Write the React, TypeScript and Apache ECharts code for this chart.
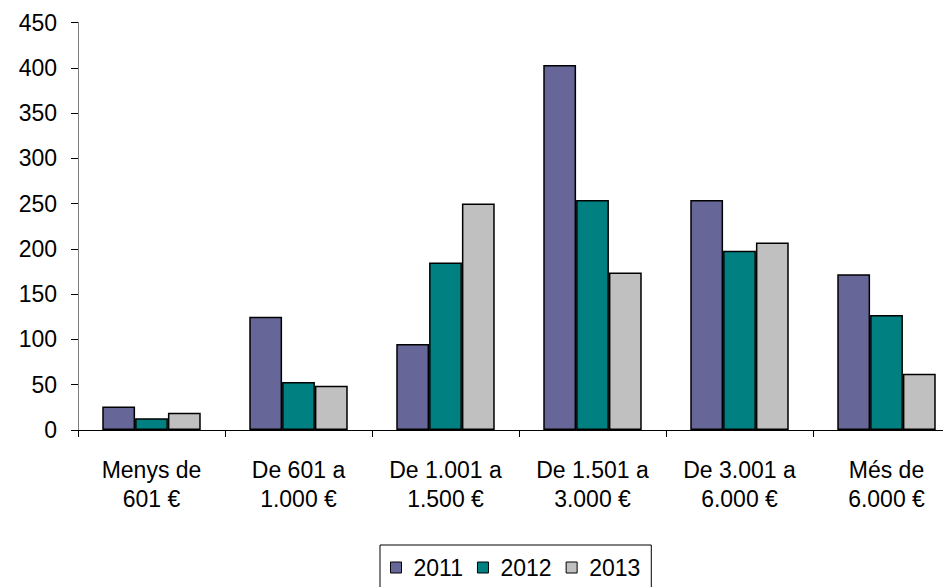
import React, { useEffect, useRef } from "react";
import * as echarts from "echarts";

const categories = [
  "Menys de\n601 €",
  "De 601 a\n1.000 €",
  "De 1.001 a\n1.500 €",
  "De 1.501 a\n3.000 €",
  "De 3.001 a\n6.000 €",
  "Més de\n6.000 €",
];
const seriesNames = ["2011", "2012", "2013"];
const values2011 = [26, 125, 95, 403, 254, 172];
const values2012 = [13, 53, 185, 254, 198, 127];
const values2013 = [19, 49, 250, 174, 207, 62];
const colors = ["#666699", "#008080", "#C0C0C0"];
const yTicks = { min: 0, max: 450, interval: 50 };

const FONT = "'Liberation Sans', Arial, sans-serif";
const FS = 23;

export default function App() {
  const ref = useRef<HTMLDivElement>(null);
  useEffect(() => {
    if (!ref.current) return;
    const chart = echarts.init(ref.current, null, { renderer: "svg" });
    const data = [values2011, values2012, values2013];
    chart.setOption({
      animation: false,
      textStyle: { fontFamily: FONT },
      grid: { left: 78, top: 22.5, right: 0, bottom: 157, containLabel: false },
      legend: {
        left: 380,
        top: 545,
        icon: "rect",
        itemWidth: 11,
        itemHeight: 11,
        itemGap: 14,
        padding: [11, 11, 20, 10],
        borderColor: "#000",
        borderWidth: 1,
        textStyle: { fontFamily: FONT, fontSize: FS, color: "#000", padding: [0, 0, 0, 7] },
        itemStyle: { borderColor: "#000", borderWidth: 1 },
        data: seriesNames,
      },
      xAxis: {
        type: "category",
        data: categories,
        axisLine: { lineStyle: { color: "#000", width: 1 } },
        axisTick: { show: true, length: 7, lineStyle: { color: "#000" } },
        axisLabel: {
          color: "#000",
          fontSize: FS,
          lineHeight: 29,
          margin: 25,
          fontFamily: FONT,
          interval: 0,
        },
      },
      yAxis: {
        type: "value",
        min: yTicks.min,
        max: yTicks.max,
        interval: yTicks.interval,
        splitLine: { show: false },
        axisLine: { show: true, lineStyle: { color: "#808080", width: 1 } },
        axisTick: { show: true, length: 7, lineStyle: { color: "#000" } },
        axisLabel: { color: "#000", fontSize: FS, margin: 21, fontFamily: FONT },
      },
      series: seriesNames.map((name, i) => ({
        name,
        type: "bar",
        data: data[i],
        barGap: "0%",
        barCategoryGap: "33%",
        itemStyle: { color: colors[i], borderColor: "#000", borderWidth: 1.5 },
      })),
    });
    return () => chart.dispose();
  }, []);
  return (
    <div style={{ position: "absolute", left: 0, top: 0, width: 943, height: 587, overflow: "hidden" }}>
      <div ref={ref} style={{ width: 960, height: 587 }} />
    </div>
  );
}
